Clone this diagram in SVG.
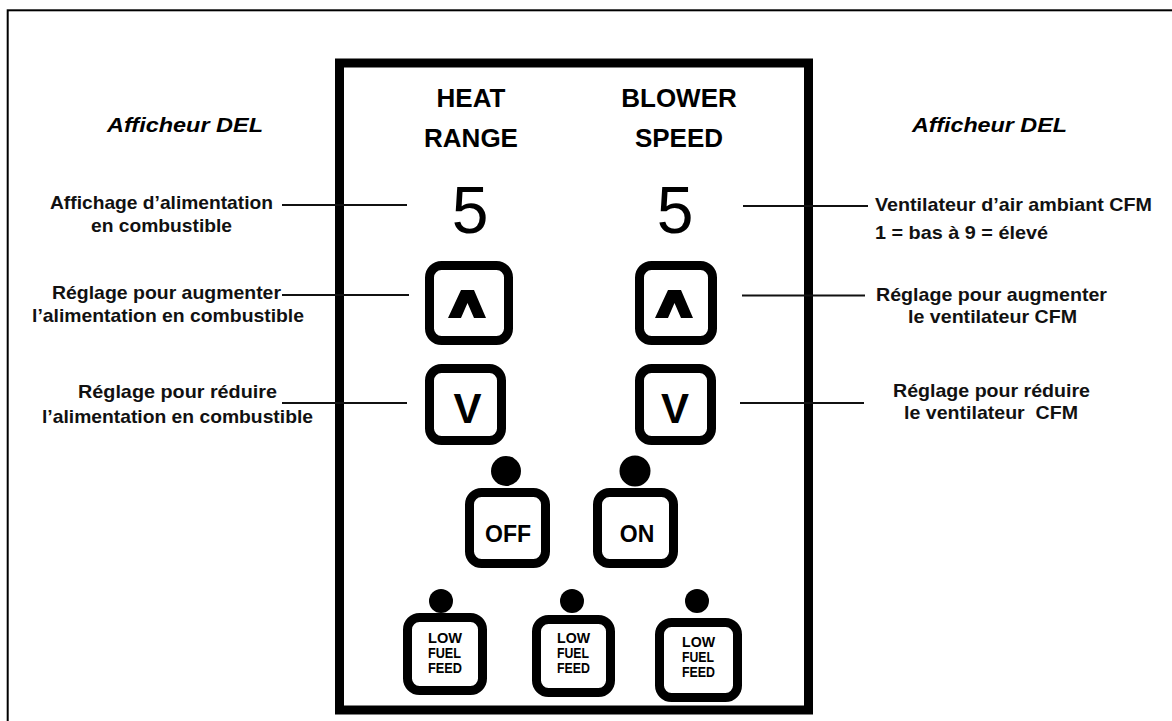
<svg xmlns="http://www.w3.org/2000/svg" width="1172" height="721" viewBox="0 0 1172 721">
<style>
.lbl{font-family:"Liberation Sans",Arial,sans-serif;font-size:19px;font-weight:bold;fill:#111}
.hdr{font-family:"Liberation Sans",Arial,sans-serif;font-size:26px;font-weight:bold;fill:#000;text-anchor:middle}
.ttl{font-family:"Liberation Sans",Arial,sans-serif;font-size:21px;font-weight:bold;font-style:italic;fill:#000}
.num{font-family:"Liberation Sans",Arial,sans-serif;font-size:66px;fill:#000;text-anchor:middle}
.btn{fill:#fff;stroke:#000;stroke-width:9}
.bt{font-family:"Liberation Sans",Arial,sans-serif;font-weight:bold;fill:#000;text-anchor:middle}
.sm{font-family:"Liberation Sans",Arial,sans-serif;font-size:14px;font-weight:bold;fill:#000}
.con{stroke:#111;stroke-width:2;fill:none}
</style>
<rect width="1172" height="721" fill="#fff"/>
<rect id="frame" x="7.7" y="10.3" width="1300" height="800" fill="none" stroke="#000" stroke-width="2"/>
<g id="panel">
<rect x="339.5" y="63" width="469" height="647" fill="none" stroke="#000" stroke-width="9"/>
</g>
<g id="headers">
<text class="hdr" x="471" y="107">HEAT</text>
<text class="hdr" x="471" y="147">RANGE</text>
<text class="hdr" x="679" y="107">BLOWER</text>
<text class="hdr" x="679" y="147">SPEED</text>
</g>
<g id="display-heat"><text class="num" x="470" y="233">5</text></g>
<g id="display-blower"><text class="num" x="675" y="233">5</text></g>
<g id="btn-heat-up">
<rect class="btn" x="429.5" y="265.5" width="79" height="75" rx="12"/>
<polygon points="461,290 474,290 486,318 474,318 467.5,303 461,318 448,318" fill="#000"/>
</g>
<g id="btn-heat-down">
<rect class="btn" x="429.5" y="368.5" width="72" height="72" rx="12"/>
<text class="bt" x="467.5" y="423" font-size="42">V</text>
</g>
<g id="btn-blower-up">
<rect class="btn" x="639.5" y="265.5" width="73" height="75" rx="12"/>
<polygon points="668,290 681,290 693,318 681,318 674.5,303 668,318 655,318" fill="#000"/>
</g>
<g id="btn-blower-down">
<rect class="btn" x="639.5" y="368.5" width="72" height="72" rx="12"/>
<text class="bt" x="675" y="423" font-size="42">V</text>
</g>
<g id="btn-off">
<circle cx="506" cy="471" r="15"/>
<rect class="btn" x="469.5" y="492.5" width="76" height="71" rx="12"/>
<text class="bt" x="508" y="542" font-size="23">OFF</text>
</g>
<g id="btn-on">
<circle cx="635" cy="471" r="15.5"/>
<rect class="btn" x="597.5" y="492.5" width="76" height="71" rx="12"/>
<text class="bt" x="637" y="542" font-size="23">ON</text>
</g>
<g id="btn-lff1">
<circle cx="441" cy="601" r="12"/>
<rect class="btn" x="407.5" y="617.5" width="75" height="73" rx="12"/>
<text class="sm" x="428" y="643" textLength="34" lengthAdjust="spacingAndGlyphs">LOW</text>
<text class="sm" x="428" y="658" textLength="33" lengthAdjust="spacingAndGlyphs">FUEL</text>
<text class="sm" x="428" y="673" textLength="34" lengthAdjust="spacingAndGlyphs">FEED</text>
</g>
<g id="btn-lff2">
<circle cx="572" cy="601" r="12"/>
<rect class="btn" x="536.5" y="619.5" width="74" height="73" rx="12"/>
<text class="sm" x="557" y="643" textLength="33" lengthAdjust="spacingAndGlyphs">LOW</text>
<text class="sm" x="557" y="658" textLength="32" lengthAdjust="spacingAndGlyphs">FUEL</text>
<text class="sm" x="557" y="673" textLength="33" lengthAdjust="spacingAndGlyphs">FEED</text>
</g>
<g id="btn-lff3">
<circle cx="697" cy="601" r="12"/>
<rect class="btn" x="659.5" y="622.5" width="78" height="75" rx="12"/>
<text class="sm" x="682" y="647" textLength="33" lengthAdjust="spacingAndGlyphs">LOW</text>
<text class="sm" x="682" y="662" textLength="32" lengthAdjust="spacingAndGlyphs">FUEL</text>
<text class="sm" x="682" y="677" textLength="33" lengthAdjust="spacingAndGlyphs">FEED</text>
</g>
<g id="connectors">
<line class="con" x1="282" y1="205" x2="407" y2="205"/>
<line class="con" x1="282" y1="295" x2="409" y2="295"/>
<line class="con" x1="282" y1="403" x2="407" y2="403"/>
<line class="con" x1="743" y1="206" x2="868" y2="206"/>
<line class="con" x1="742" y1="295.5" x2="865" y2="295.5"/>
<line class="con" x1="740" y1="403" x2="864" y2="403"/>
</g>
<g id="labels-left">
<text class="ttl" x="107" y="132" textLength="156" lengthAdjust="spacingAndGlyphs">Afficheur DEL</text>
<text class="lbl" x="50" y="209" textLength="223" lengthAdjust="spacingAndGlyphs">Affichage d’alimentation</text>
<text class="lbl" x="91" y="232" textLength="141" lengthAdjust="spacingAndGlyphs">en combustible</text>
<text class="lbl" x="52" y="299" textLength="229" lengthAdjust="spacingAndGlyphs">Réglage pour augmenter</text>
<text class="lbl" x="32" y="322" textLength="272" lengthAdjust="spacingAndGlyphs">l’alimentation en combustible</text>
<text class="lbl" x="78" y="398" textLength="199" lengthAdjust="spacingAndGlyphs">Réglage pour réduire</text>
<text class="lbl" x="42" y="423" textLength="271" lengthAdjust="spacingAndGlyphs">l’alimentation en combustible</text>
</g>
<g id="labels-right">
<text class="ttl" x="912" y="132" textLength="155" lengthAdjust="spacingAndGlyphs">Afficheur DEL</text>
<text class="lbl" x="875" y="211" textLength="277" lengthAdjust="spacingAndGlyphs">Ventilateur d’air ambiant CFM</text>
<text class="lbl" x="875" y="239" textLength="173" lengthAdjust="spacingAndGlyphs">1 = bas à 9 = élevé</text>
<text class="lbl" x="876" y="301" textLength="231" lengthAdjust="spacingAndGlyphs">Réglage pour augmenter</text>
<text class="lbl" x="908" y="323" textLength="169" lengthAdjust="spacingAndGlyphs">le ventilateur CFM</text>
<text class="lbl" x="893" y="397" textLength="197" lengthAdjust="spacingAndGlyphs">Réglage pour réduire</text>
<text class="lbl" x="904" y="419" textLength="174" lengthAdjust="spacingAndGlyphs" xml:space="preserve">le ventilateur  CFM</text>
</g>
</svg>
